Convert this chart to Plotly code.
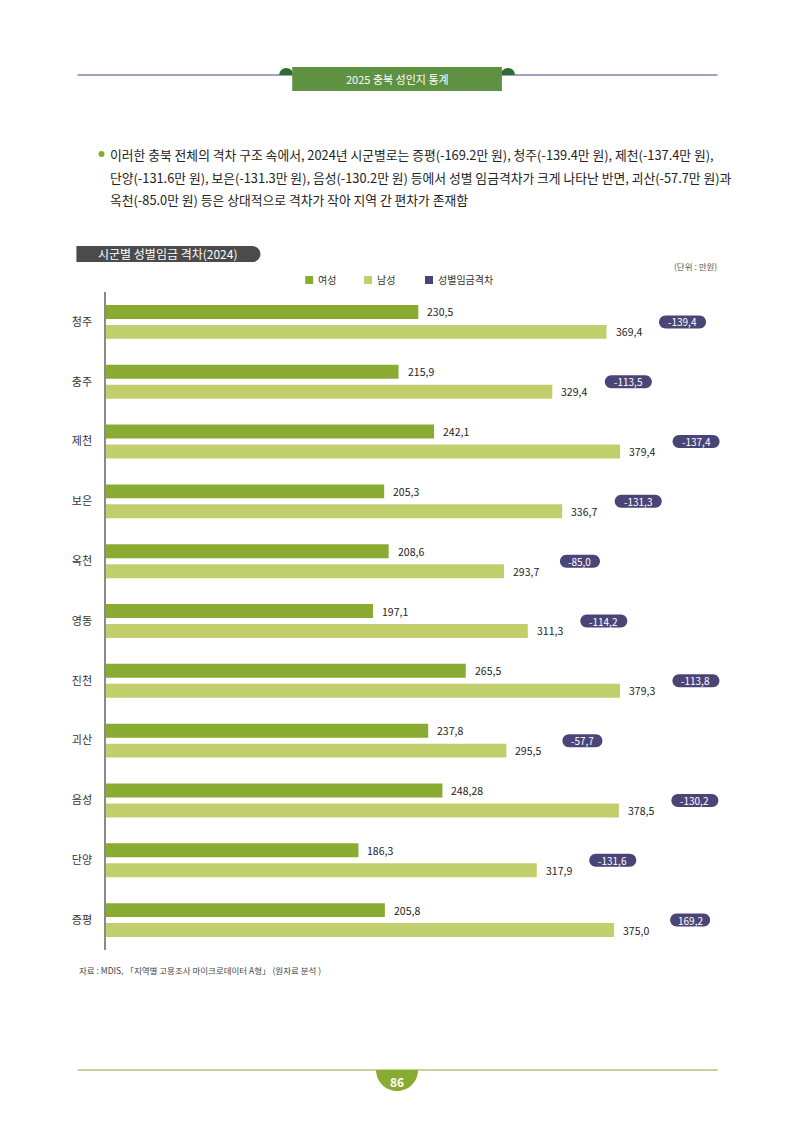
import plotly.graph_objects as go

# 시군별 성별임금 격차(2024), 단위: 만원
cities = ["청주", "충주", "제천", "보은", "옥천", "영동", "진천", "괴산", "음성", "단양", "증평"]
female = [230.5, 215.9, 242.1, 205.3, 208.6, 197.1, 265.5, 237.8, 248.28, 186.3, 205.8]
male = [369.4, 329.4, 379.4, 336.7, 293.7, 311.3, 379.3, 295.5, 378.5, 317.9, 375.0]
gap = [-139.4, -113.5, -137.4, -131.3, -85.0, -114.2, -113.8, -57.7, -130.2, -131.6, 169.2]

# page geometry (px); the page body adds an 8px margin, so the figure is drawn 8px in
OFF = 8
W, H = 794 - 2 * OFF, 1123 - 2 * OFF
XMAX = 462
ML, MT, MB = 105.5 - OFF, 292 - OFF, 165
MR = W - ML - XMAX * 1.357
PW, PH = W - ML - MR, H - MT - MB


def fx(px):
    return (px - OFF - ML) / PW


def fy(py):
    return (H - MB - (py - OFF)) / PH


def lab(v):
    return str(v).replace(".", ",")


def pill(w, h, cx=0, flat_left=False):
    r = h / 2
    a = w / 2 - r
    k = 0.5523 * r
    if flat_left:
        left = f"L {cx - w / 2},{r} L {cx - w / 2},{-r} Z"
    else:
        left = (f"L {cx - a},{r} C {cx - a - k},{r} {cx - a - r},{k} {cx - a - r},0 "
                f"C {cx - a - r},{-k} {cx - a - k},{-r} {cx - a},{-r} Z")
    return (f"M {cx - a},{-r} L {cx + a},{-r} C {cx + a + k},{-r} {cx + a + r},{-k} {cx + a + r},0 "
            f"C {cx + a + r},{k} {cx + a + k},{r} {cx + a},{r} " + left)


C_F = "#8aab31"
C_M = "#c0cf6c"
C_G = "#4b4577"
FONT = "Noto Sans CJK KR"

ypos = list(range(len(cities)))

fig = go.Figure()
fig.add_trace(go.Bar(y=ypos, x=female, orientation="h", name="여성",
                     marker=dict(color=C_F, line=dict(width=0)), showlegend=False))
fig.add_trace(go.Bar(y=ypos, x=male, orientation="h", name="남성",
                     marker=dict(color=C_M, line=dict(width=0)), showlegend=False))

shapes = []
anns = []


def note(px, py, text, size, color="#222", xanchor="left"):
    anns.append(dict(x=fx(px), y=fy(py), xref="paper", yref="paper", text=text,
                     showarrow=False, xanchor=xanchor, yanchor="middle",
                     font=dict(size=size, color=color)))


# value labels and gap badges
for i in ypos:
    anns.append(dict(x=female[i], y=i - 0.167, xref="x", yref="y", text=lab(female[i]),
                     showarrow=False, xanchor="left", yanchor="middle", xshift=7,
                     font=dict(size=10.5, color="#222")))
    anns.append(dict(x=male[i], y=i + 0.167, xref="x", yref="y", text=lab(male[i]),
                     showarrow=False, xanchor="left", yanchor="middle", xshift=7,
                     font=dict(size=10.5, color="#222")))
    t = lab(gap[i])
    w = 7 * len(t) + 5
    shapes.append(dict(type="path", xref="x", yref="y", xsizemode="pixel", ysizemode="pixel",
                       xanchor=male[i], yanchor=i, path=pill(w, 13, cx=76),
                       fillcolor=C_G, line=dict(width=0)))
    anns.append(dict(x=male[i], y=i, xref="x", yref="y", text=t, showarrow=False,
                     xanchor="center", yanchor="middle", xshift=76,
                     font=dict(size=10, color="white")))

# header
shapes.append(dict(type="line", xref="paper", yref="paper", x0=fx(77), x1=fx(718),
                   y0=fy(75), y1=fy(75), line=dict(color="#a3a1bf", width=2), layer="below"))
for cx in (286, 508):
    shapes.append(dict(type="path", xref="paper", yref="paper", xsizemode="pixel",
                       ysizemode="pixel", xanchor=fx(cx), yanchor=fy(75),
                       path="M -7,0 C -7,3.9 -3.9,7 0,7 C 3.9,7 7,3.9 7,0 Z",
                       fillcolor="#2f6b30", line=dict(width=0)))
shapes.append(dict(type="rect", xref="paper", yref="paper", x0=fx(292), x1=fx(502),
                   y0=fy(91), y1=fy(67), fillcolor="#5e9142", line=dict(width=0)))
note(397, 79, "2025 충북 성인지 통계", 11, "white", "center")

# bullet text
shapes.append(dict(type="circle", xref="paper", yref="paper", x0=fx(98), x1=fx(104),
                   y0=fy(157), y1=fy(151), fillcolor="#7fae2f", line=dict(width=0)))
lines = ["이러한 충북 전체의 격차 구조 속에서, 2024년 시군별로는 증평(-169.2만 원), 청주(-139.4만 원), 제천(-137.4만 원),",
         "단양(-131.6만 원), 보은(-131.3만 원), 음성(-130.2만 원) 등에서 성별 임금격차가 크게 나타난 반면, 괴산(-57.7만 원)과",
         "옥천(-85.0만 원) 등은 상대적으로 격차가 작아 지역 간 편차가 존재함"]
for k, s in enumerate(lines):
    note(108, 154 + 23 * k, s, 12.8)

# chart title
shapes.append(dict(type="path", xref="paper", yref="paper", xsizemode="pixel", ysizemode="pixel",
                   xanchor=fx(168), yanchor=fy(254), path=pill(184, 16, flat_left=True),
                   fillcolor="#4b4b4b", line=dict(width=0)))
note(95, 254, "시군별 성별임금 격차(2024)", 12, "white")
note(719, 266, "(단위 : 만원)", 8.5, "#555", "right")

# legend
for sx, col, name in ((305, C_F, "여성"), (364, C_M, "남성"), (425, C_G, "성별임금격차")):
    shapes.append(dict(type="rect", xref="paper", yref="paper", x0=fx(sx), x1=fx(sx + 8),
                       y0=fy(284), y1=fy(276), fillcolor=col, line=dict(width=0)))
    note(sx + 11, 280, name, 10, "#333")

# source
note(76, 970, "자료 : MDIS, 「지역별 고용조사 마이크로데이터 A형」 (원자료 분석 )", 8.5, "#444")

# footer
shapes.append(dict(type="line", xref="paper", yref="paper", x0=fx(77), x1=fx(718),
                   y0=fy(1070), y1=fy(1070), line=dict(color="#8aab3a", width=1.2)))
shapes.append(dict(type="path", xref="paper", yref="paper", xsizemode="pixel", ysizemode="pixel",
                   xanchor=fx(397), yanchor=fy(1070),
                   path="M -21,0 C -21,-11.6 -11.6,-21 0,-21 C 11.6,-21 21,-11.6 21,0 Z",
                   fillcolor="#8aab31", line=dict(width=0)))
note(397, 1081, "<b>86</b>", 12, "white", "center")

fig.update_layout(
    width=W, height=H,
    margin=dict(l=ML, r=MR, t=MT, b=MB, pad=0),
    paper_bgcolor="white", plot_bgcolor="white",
    font=dict(family=FONT, color="#222"),
    barmode="group", bargap=1 / 3, bargroupgap=0.3,
    xaxis=dict(range=[0, XMAX], visible=False, fixedrange=True),
    yaxis=dict(range=[len(cities) - 0.5, -0.5], tickmode="array", tickvals=ypos,
               ticktext=cities, showline=True, linecolor="#8a8a8a", linewidth=1.5,
               showgrid=False, zeroline=False, ticks="", ticklabelstandoff=10,
               tickfont=dict(size=11, color="#333"), fixedrange=True),
    shapes=shapes, annotations=anns, showlegend=False,
)

fig.write_html("out.html")
